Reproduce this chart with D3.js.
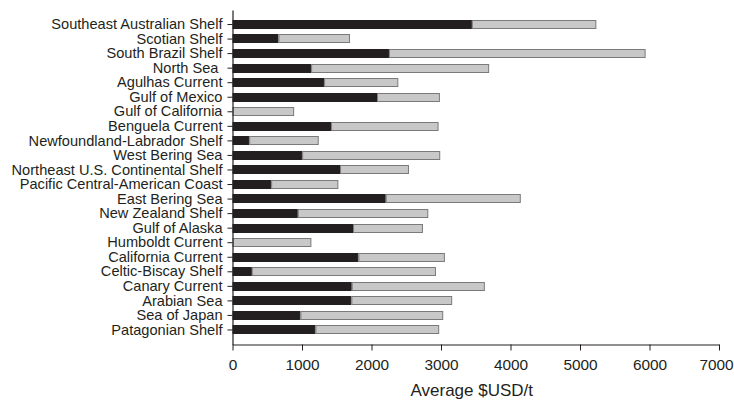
<!DOCTYPE html>
<html>
<head>
<meta charset="utf-8">
<script src="https://cdn.jsdelivr.net/npm/d3@7"></script>
<style>
  html, body { margin: 0; padding: 0; background: #fff; }
  svg { display: block; }
  text { font-family: "Liberation Sans", Arial, Helvetica, sans-serif; fill: #231f20; }
</style>
</head>
<body>
<svg id="chart" width="734" height="400"></svg>
<script>
const categories = [
  "Southeast Australian Shelf", "Scotian Shelf", "South Brazil Shelf", "North Sea ",
  "Agulhas Current", "Gulf of Mexico", "Gulf of California", "Benguela Current",
  "Newfoundland-Labrador Shelf", "West Bering Sea", "Northeast U.S. Continental Shelf",
  "Pacific Central-American Coast", "East Bering Sea", "New Zealand Shelf", "Gulf of Alaska",
  "Humboldt Current", "California Current", "Celtic-Biscay Shelf", "Canary Current",
  "Arabian Sea", "Sea of Japan", "Patagonian Shelf"
];
// dark (first) segment, USD/t
const darkValues = [3444, 661, 2251, 1131, 1318, 2079, 0, 1418, 240, 1002, 1547, 556,
                    2204, 939, 1734, 0, 1811, 278, 1715, 1710, 977, 1193];
// light (second) segment, USD/t
const lightValues = [1791, 1030, 3693, 2562, 1068, 905, 887, 1547, 1001, 1987, 992, 967,
                     1944, 1878, 1006, 1135, 1245, 2649, 1916, 1451, 2055, 1781];
const xTicks = [0, 1000, 2000, 3000, 4000, 5000, 6000, 7000];
const xTitle = "Average $USD/t";

const svg = d3.select("#chart");
const mLeft = 232.5, mRight = 719, mTop = 10, mBottom = 344.5;

const x = d3.scaleLinear().domain([0, 7000]).range([mLeft, mRight]);
const y = d3.scaleBand().domain(categories).range([mTop, mBottom])
  .paddingInner(0.36).paddingOuter(0.678);

const rows = categories.map((c, i) => ({ cat: c, dark: darkValues[i], light: lightValues[i] }));
const stacked = d3.stack().keys(["dark", "light"])(rows);
const fills = { dark: "#231f20", light: "#c8c8c8" };
const strokes = { dark: "#231f20", light: "#7a7a7a" };

svg.append("g").selectAll("g").data(stacked).join("g")
  .attr("fill", d => fills[d.key])
  .attr("stroke", d => strokes[d.key])
  .attr("stroke-width", 1)
  .selectAll("rect").data(d => d.filter(s => s[1] - s[0] > 0)).join("rect")
  .attr("x", d => x(d[0]) + 0.5)
  .attr("y", d => Math.round(y(d.data.cat)) + 0.5)
  .attr("width", d => Math.max(0, x(d[1]) - x(d[0]) - 1))
  .attr("height", Math.round(y.bandwidth()) - 1);

// y axis
const yAxis = svg.append("g").attr("transform", `translate(${mLeft},0)`)
  .call(d3.axisLeft(y).tickSize(5).tickPadding(5).tickSizeOuter(0));
yAxis.select(".domain").attr("stroke", "#231f20").attr("stroke-width", 1.2);
yAxis.selectAll(".tick line").attr("stroke", "#231f20");
yAxis.selectAll(".tick text").attr("font-size", "14.6px").attr("fill", "#231f20")
  .style("white-space", "pre");

// x axis
const xAxis = svg.append("g").attr("transform", `translate(0,${mBottom})`)
  .call(d3.axisBottom(x).tickValues(xTicks).tickFormat(d3.format("d")).tickSize(6).tickPadding(9).tickSizeOuter(0));
xAxis.select(".domain").attr("stroke", "#231f20").attr("stroke-width", 1.2);
xAxis.selectAll(".tick line").attr("stroke", "#231f20");
xAxis.selectAll(".tick text").attr("font-size", "15.4px").attr("fill", "#231f20")
  .attr("dx", d => d === 7000 ? -3 : 0);

svg.append("text")
  .attr("x", (mLeft + mRight) / 2 - 4)
  .attr("y", 396)
  .attr("text-anchor", "middle")
  .attr("font-size", "17px")
  .text(xTitle);
</script>
</body>
</html>
